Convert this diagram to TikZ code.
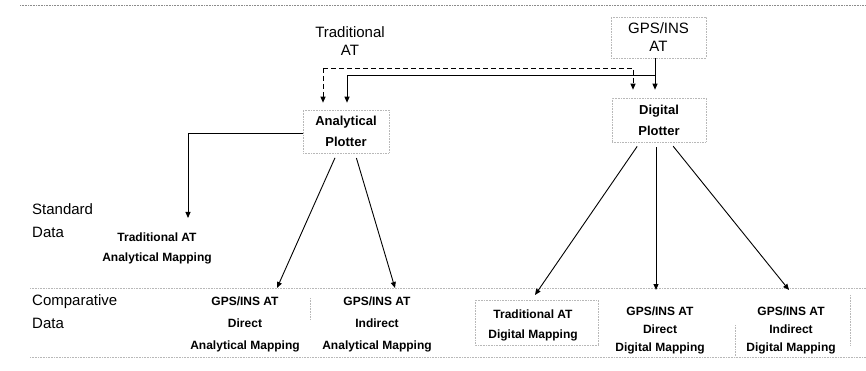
\documentclass[tikz,border=0pt]{standalone}
\usepackage{fontspec}
\setmainfont{Liberation Sans}
\usetikzlibrary{arrows.meta}
\begin{document}
\begin{tikzpicture}[x=1pt,y=-1pt,
  faint/.style={draw=black!28, densely dotted, line width=0.6pt},
  arr/.style={-{Triangle[width=5pt,length=6pt]}, line width=0.9pt},
  darr/.style={arr, dash pattern=on 5pt off 3pt},
  toplbl/.style={font=\fontsize{15}{18}\selectfont, align=center, inner sep=0pt},
  plbox/.style={faint, align=center, inner sep=0pt, font=\bfseries\fontsize{13}{21}\selectfont},
  res/.style={font=\bfseries\fontsize{12}{22}\selectfont, align=center, inner sep=0pt, anchor=north},
  resd/.style={res, font=\bfseries\fontsize{12}{18}\selectfont},
  side/.style={font=\fontsize{15}{23}\selectfont, align=left, inner sep=0pt, anchor=north west}]
\useasboundingbox (0,0) rectangle (866,371);

% faint scan borders
\draw[faint, draw=black!45] (20,5) -- (866,5);
\draw[faint] (30,288) -- (866,288);
\draw[faint] (30,357) -- (866,357);
\draw[faint] (475,300) rectangle (598,345);
\draw[faint] (735,325) -- (735,357);
\draw[faint] (850,295) -- (850,345);
\draw[faint] (310,298) -- (310,320);

% nodes
\node[toplbl] (tat) at (350,41) {Traditional\\AT};
\node[plbox, minimum width=95pt, minimum height=41pt, font=\fontsize{15}{18}\selectfont] (gps) at (658.5,37.5) {GPS/INS\\AT};
\node[plbox, minimum width=86pt, minimum height=43pt] (ap) at (346,131.5) {Analytical\\Plotter};
\node[plbox, minimum width=94pt, minimum height=44pt] (dp) at (659,120) {Digital\\Plotter};

\node[side] (std) at (32,203) {Standard\\Data};
\node[side] (cmp) at (32,294) {Comparative\\Data};

\node[res, font=\bfseries\fontsize{12}{20}\selectfont] (tam) at (157,233) {Traditional AT\\Analytical Mapping};
\node[res] (gdam) at (245,297) {GPS/INS AT\\Direct\\Analytical Mapping};
\node[res] (giam) at (377,297) {GPS/INS AT\\Indirect\\Analytical Mapping};
\node[res, font=\bfseries\fontsize{12}{20}\selectfont] (tdm) at (533,310) {Traditional AT\\Digital Mapping};
\node[resd] (gddm) at (660,307) {GPS/INS AT\\Direct\\Digital Mapping};
\node[resd] (gidm) at (791,307) {GPS/INS AT\\Indirect\\Digital Mapping};

% junctions
\coordinate (dj) at (323,68);
\coordinate (sj) at (655,75);

% connectors
\draw[darr] (dj) -| ([xshift=-26pt,yshift=8pt]dp.north);
\draw[darr] (dj) -- ([xshift=-23pt,yshift=7pt]ap.north);
\draw[arr] ([xshift=-3.5pt]gps.south) -- ([xshift=-4pt,yshift=8pt]dp.north);
\draw[arr] (sj) -| ([xshift=1pt,yshift=7pt]ap.north);

\draw[arr] ([yshift=-1.5pt]ap.west) -| ([xshift=31pt,yshift=15pt]tam.north);
\draw[arr, shorten <=5pt] ([xshift=-9pt]ap.south) -- ([xshift=32pt,yshift=9pt]gdam.north);
\draw[arr, shorten <=5pt] ([xshift=9pt]ap.south) -- ([xshift=18pt,yshift=9pt]giam.north);

\draw[arr, shorten <=5pt] ([xshift=-19pt]dp.south) -- ([xshift=2pt,yshift=15pt]tdm.north);
\draw[arr, shorten <=5pt] ([xshift=-3pt]dp.south) -- ([xshift=-4pt,yshift=17pt]gddm.north);
\draw[arr, shorten <=5pt] ([xshift=11pt]dp.south) -- ([xshift=-2pt,yshift=17pt]gidm.north);
\end{tikzpicture}
\end{document}
